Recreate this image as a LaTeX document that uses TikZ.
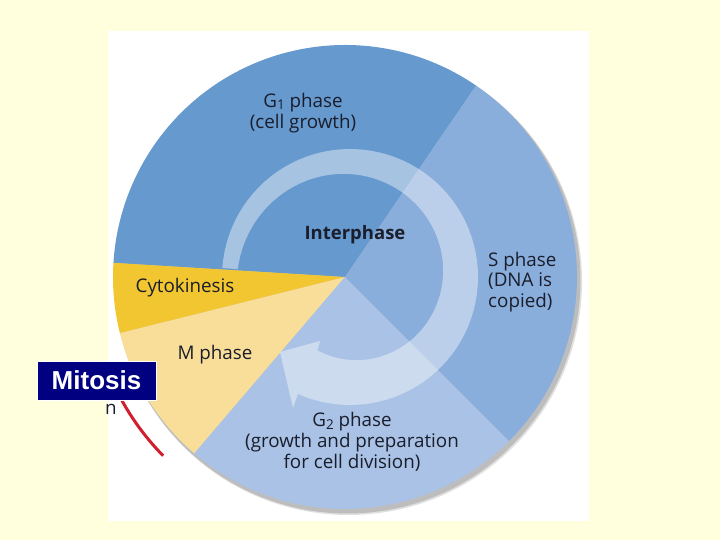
\documentclass[tikz,border=0pt]{standalone}
\usepackage{fontspec}
\setmainfont{Open Sans}
\newfontfamily\arialfont{Liberation Sans}
\definecolor{bgyellow}{HTML}{FFFFDD}
\definecolor{gone}{HTML}{6699CE}
\definecolor{sph}{HTML}{8AAEDB}
\definecolor{gtwo}{HTML}{A9C2E5}
\definecolor{mph}{HTML}{F8DE98}
\definecolor{cyto}{HTML}{F2C630}
\definecolor{txt}{HTML}{1A1E2C}
\definecolor{navy}{HTML}{000080}
\definecolor{redarc}{HTML}{D0202F}
\tikzset{
  lbl/.style={text=txt, inner sep=0pt, align=center, font=\fontsize{18.8}{21}\selectfont},
  lblleft/.style={text=txt, inner sep=0pt, align=left, font=\fontsize{18.8}{20.5}\selectfont}
}
\newcommand{\subn}[1]{\raisebox{-2.5pt}{\fontsize{13.5}{13.5}\selectfont #1}}
\begin{document}
\begin{tikzpicture}[x=1pt,y=1pt]
\useasboundingbox (0,0) rectangle (720,540);
\fill[bgyellow] (0,0) rectangle (720,540);
\fill[white] (108,19) rectangle (589,509);
\coordinate (C) at (345,263);
% shadow
\fill[black!45, opacity=0.5] (347.5,259.5) circle (233);
\fill[black!30, opacity=0.4] (348.5,258.5) circle (233.5);
% sectors
\fill[gone] (C) -- ++(55.6:232) arc[start angle=55.6, end angle=176.5, radius=232] -- cycle;
\fill[cyto] (C) -- ++(176.5:232) arc[start angle=176.5, end angle=194, radius=232] -- cycle;
\fill[mph] (C) -- ++(194:232) arc[start angle=194, end angle=229.5, radius=232] -- cycle;
\fill[gtwo] (C) -- ++(229.5:232) arc[start angle=229.5, end angle=315, radius=232] -- cycle;
\fill[sph] (C) -- ++(-45:232) arc[start angle=-45, end angle=55.6, radius=232] -- cycle;
% cycle arrow
\coordinate (tip) at (280,188);
\coordinate (barbin) at (320,199);
\coordinate (barbout) at (293,132);
\fill[white, fill opacity=0.42]
  plot[domain=176:-114, samples=80] ({350+128*cos(\x)},{263+128*sin(\x)})
  -- (barbout) -- (tip) -- (barbin)
  -- plot[domain=-114:176, samples=80] ({350+(80.3+0.1111*(\x+114))*cos(\x)},{263+(80.3+0.1111*(\x+114))*sin(\x)})
  -- cycle;
% red arc
\draw[redarc, line width=3pt] (C) ++(205:255) arc[start angle=205, end angle=224.5, radius=255];
% labels
\node[lbl] (g1) at (303,427) {G\subn{1} phase\\(cell growth)};
\node[lbl, font=\fontsize{18.5}{21}\selectfont\bfseries] (inter) at (355,305) {Interphase};
\node[lblleft, anchor=west] (s) at (488,258) {S phase\\(DNA is\\copied)};
\node[lbl] (cy) at (185,252) {Cytokinesis};
\node[lbl] (m) at (215,185) {M phase};
\node[lbl] (g2) at (352,98) {G\subn{2} phase\\(growth and preparation\\for cell division)};
\node[lbl] (n) at (111,131) {n};
% Mitosis box
\node[draw=white, line width=0.8pt, fill=navy, text=white, minimum width=119pt, minimum height=39pt, inner sep=0pt, font=\arialfont\bfseries\fontsize{26}{26}\selectfont] (mit) at (96.5,159.5) {Mitosis};
\end{tikzpicture}
\end{document}
